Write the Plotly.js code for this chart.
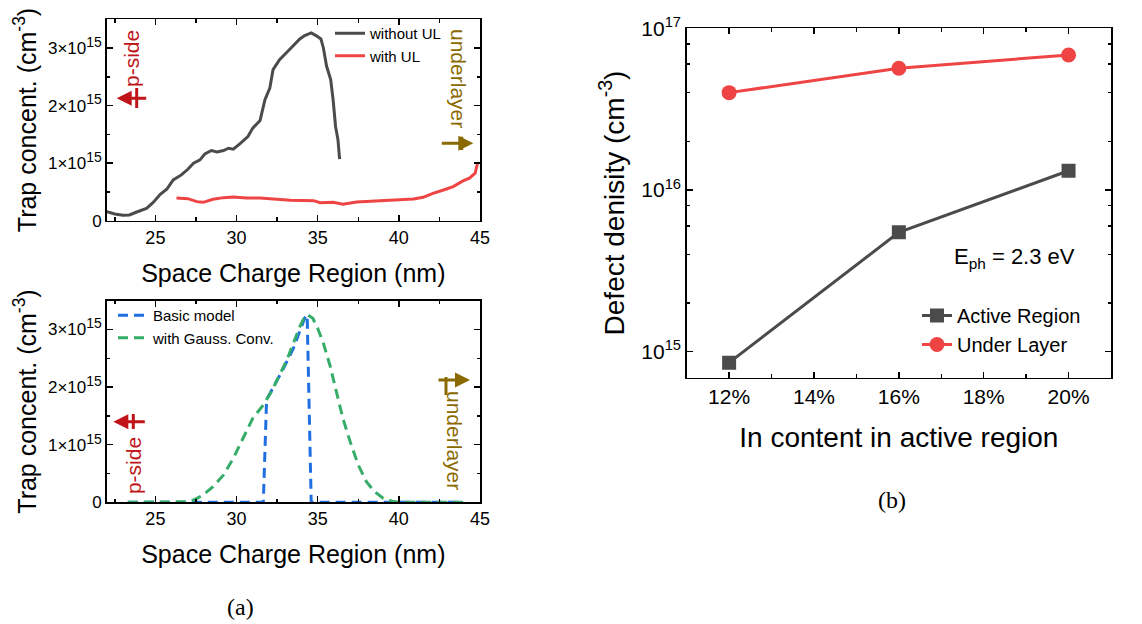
<!DOCTYPE html>
<html><head><meta charset="utf-8">
<script src="https://cdn.plot.ly/plotly-3.0.1.min.js"></script>
<style>html,body{margin:0;padding:0;background:#fff;}#chart{width:1142px;height:624px;}</style>
</head><body><div id="chart"></div>
<script>
// ---------- Data (a) top: trap concentration vs space charge region ----------
const withoutUL_x = [22.0,22.5,23.0,23.4,23.85,24.45,24.85,25.3,25.7,26.1,26.6,27.0,27.35,27.75,28.05,28.45,28.8,29.2,29.5,29.8,30.2,30.7,31.0,31.45,31.75,32.05,32.25,32.65,33.1,33.5,33.9,34.2,34.6,34.9,35.2,35.35,35.55,35.8,35.95,36.1,36.25,36.35];
const withoutUL_y = [0.157e15,0.116e15,0.093e15,0.099e15,0.151e15,0.215e15,0.314e15,0.459e15,0.546e15,0.708e15,0.796e15,0.894e15,0.999e15,1.057e15,1.161e15,1.22e15,1.196e15,1.22e15,1.26e15,1.243e15,1.336e15,1.463e15,1.609e15,1.742e15,2.102e15,2.305e15,2.625e15,2.799e15,2.927e15,3.043e15,3.159e15,3.217e15,3.264e15,3.217e15,3.159e15,3.002e15,2.683e15,2.451e15,2.102e15,1.638e15,1.405e15,1.069e15];
const withUL_x = [26.3,27.0,27.55,27.95,28.55,29.2,29.8,30.6,31.45,32.45,33.3,34.75,35.15,35.95,36.55,37.4,38.4,39.25,40.05,40.9,41.5,42.1,42.75,43.35,43.95,44.35,44.7,44.85];
const withUL_y = [0.395e15,0.383e15,0.331e15,0.319e15,0.372e15,0.401e15,0.412e15,0.395e15,0.395e15,0.377e15,0.354e15,0.348e15,0.314e15,0.319e15,0.285e15,0.325e15,0.337e15,0.348e15,0.354e15,0.377e15,0.406e15,0.476e15,0.534e15,0.592e15,0.691e15,0.738e15,0.825e15,0.999e15];

// ---------- Data (a) bottom: model curves ----------
const basic_x = [23.3,31.65,31.85,32.25,32.9,33.5,33.9,34.2,34.35,34.6,44.0];
const basic_y = [0,0,1.78e15,1.98e15,2.33e15,2.67e15,2.96e15,3.2e15,3.25e15,0,0];
const gauss_x = [23.3,26.9,27.35,27.95,28.55,29.2,29.8,30.4,31.0,31.65,32.15,32.65,33.1,33.5,33.9,34.2,34.4,34.7,35.0,35.35,35.75,36.15,36.55,37.0,37.5,38.0,38.5,39.05,39.65,40.05,44.0];
const gauss_y = [0,0.01e15,0.04e15,0.127e15,0.272e15,0.475e15,0.764e15,1.111e15,1.458e15,1.69e15,1.921e15,2.211e15,2.471e15,2.76e15,3.05e15,3.223e15,3.252e15,3.194e15,3.021e15,2.76e15,2.384e15,1.921e15,1.458e15,1.053e15,0.648e15,0.359e15,0.185e15,0.069e15,0.012e15,0,0];

// ---------- Data (b): defect density vs In content ----------
const inContent = [12,16,20];
const activeRegion = [8.55e14,5.47e15,1.315e16];
const underLayer = [4.0e16,5.66e16,6.84e16];

// tick labels
const leftXTickVals = [25,30,35,40,45];
const leftXMinor = [22.5,27.5,32.5,37.5,42.5];
const leftTickVals = [0,1e15,2e15,3e15];
const leftTickText = ['0','1×10<sup><span style="font-size:14px">15</span></sup>','2×10<sup><span style="font-size:14px">15</span></sup>','3×10<sup><span style="font-size:14px">15</span></sup>'];
const leftYMinor = [0.5e15,1.5e15,2.5e15,3.5e15];
const rightXTickVals = [12,14,16,18,20];
const rightXTickText = ['12%','14%','16%','18%','20%'];
const rightXMinor = [11,13,15,17,19,21];
const rightTickVals = [1e15,1e16,1e17];
const rightTickText = ['10<sup>15</sup>','10<sup>16</sup>','10<sup>17</sup>'];
const rightYMinor = [2e15,4e15,6e15,8e15,2e16,4e16,6e16,8e16];

// ---------- layout helpers ----------
const W=1142,H=624;
const px = v => v/W;
const py = v => 1 - v/H;
const FONT = 'Liberation Sans, Arial, sans-serif';
const GRAY='#4b4b4b', RED='#ef4444', BLUE='#1f6fe0', GREEN='#35ad68', PRED='#c01418', GOLD='#8a6a00';

function minorTicks(vals){
  return {tickmode:'array',tickvals:vals,ticks:'inside',ticklen:3.5,tickwidth:1.5,tickcolor:'#000'};
}
function axisBase(extra){
  return Object.assign({
    showline:true, linecolor:'#000', linewidth:1.5, mirror:'ticks',
    ticks:'inside', ticklen:6, tickwidth:1.5, tickcolor:'#000',
    showgrid:false, zeroline:false, tickmode:'array',
    tickfont:{family:FONT,size:18,color:'#000'}
  }, extra);
}

const traces = [
  {x:withoutUL_x,y:withoutUL_y,xaxis:'x',yaxis:'y',mode:'lines',name:'without UL',line:{color:GRAY,width:3},legend:'legend'},
  {x:withUL_x,y:withUL_y,xaxis:'x',yaxis:'y',mode:'lines',name:'with UL',line:{color:RED,width:3},legend:'legend'},
  {x:basic_x,y:basic_y,xaxis:'x2',yaxis:'y2',mode:'lines',name:'Basic model',line:{color:BLUE,width:3,dash:'10px,6px'},legend:'legend2'},
  {x:gauss_x,y:gauss_y,xaxis:'x2',yaxis:'y2',mode:'lines',name:'with Gauss. Conv.',line:{color:GREEN,width:3,dash:'10px,6px'},legend:'legend2'},
  {x:inContent,y:activeRegion,xaxis:'x3',yaxis:'y3',mode:'lines+markers',name:'Active Region',line:{color:GRAY,width:3},marker:{symbol:'square',size:14,color:GRAY},legend:'legend3'},
  {x:inContent,y:underLayer,xaxis:'x3',yaxis:'y3',mode:'lines+markers',name:'Under Layer',line:{color:RED,width:3},marker:{symbol:'circle',size:15,color:RED},legend:'legend3'}
];

const leftX = (anchor)=>axisBase({domain:[px(106.7),px(480)],anchor:anchor,range:[22,45],tickvals:leftXTickVals,
  minor:minorTicks(leftXMinor),
  title:{text:'Space Charge Region (nm)',font:{family:FONT,size:25,color:'#000'},standoff:17}});
const leftY = (anchor,dom)=>axisBase({domain:dom,anchor:anchor,range:[0,3.5e15],tickvals:leftTickVals,ticktext:leftTickText,
  tickfont:{family:FONT,size:17,color:'#000'},
  minor:minorTicks(leftYMinor),
  title:{text:'Trap concent. (cm<sup>-3</sup>)',font:{family:FONT,size:25,color:'#000'},standoff:4}});

const ann = (x,y,text,angle,size,color,family)=>({xref:'paper',yref:'paper',x:px(x),y:py(y),xanchor:'center',yanchor:'middle',
  text:text,textangle:angle,showarrow:false,font:{family:family||FONT,size:size,color:color}});
const arrow = (x,y,ax,color)=>({xref:'paper',yref:'paper',x:px(x),y:py(y),ax:ax,ay:0,text:'',showarrow:true,arrowhead:2,arrowsize:1,arrowwidth:3,arrowcolor:color});
const bar = (x,y0,y1,color)=>({type:'line',xref:'paper',yref:'paper',x0:px(x),x1:px(x),y0:py(y0),y1:py(y1),line:{color:color,width:3}});
const SERIF='Liberation Serif, Times New Roman, serif';

const layout = {
  width:W,height:H,margin:{l:0,r:0,t:0,b:0},paper_bgcolor:'#fff',plot_bgcolor:'#fff',
  font:{family:FONT,color:'#000'},
  xaxis:leftX('y'),
  yaxis:leftY('x',[py(220.7),py(19.3)]),
  xaxis2:leftX('y2'),
  yaxis2:leftY('x2',[py(502.3),py(300.7)]),
  xaxis3:axisBase({domain:[px(686.7),px(1111)],anchor:'y3',range:[11,21],tickvals:rightXTickVals,ticktext:rightXTickText,
    tickfont:{family:FONT,size:21,color:'#000'},
    minor:minorTicks(rightXMinor),
    title:{text:'In content in active region',font:{family:FONT,size:28,color:'#000'},standoff:20}}),
  yaxis3:axisBase({domain:[py(377.7),py(28.3)],anchor:'x3',type:'log',range:[14.839,17],tickvals:rightTickVals,ticktext:rightTickText,
    tickfont:{family:FONT,size:21,color:'#000'},
    minor:minorTicks(rightYMinor),
    title:{text:'Defect denisity (cm<sup>-3</sup>)',font:{family:FONT,size:28,color:'#000'},standoff:8}}),
  legend:{x:px(330),y:py(17),xanchor:'left',yanchor:'top',bgcolor:'rgba(0,0,0,0)',font:{family:FONT,size:15,color:'#000'},tracegroupgap:0},
  legend2:{x:px(113),y:py(299),xanchor:'left',yanchor:'top',bgcolor:'rgba(0,0,0,0)',font:{family:FONT,size:15,color:'#000'},tracegroupgap:0},
  legend3:{x:px(917),y:py(296),xanchor:'left',yanchor:'top',bgcolor:'rgba(0,0,0,0)',font:{family:FONT,size:20,color:'#000'},tracegroupgap:0},
  annotations:[
    ann(131.7,58.3,'p-side',-90,21,PRED),
    ann(458.3,78.3,'underlayer',90,21,GOLD),
    ann(133.3,465.8,'p-side',-90,21,PRED),
    ann(455,440,'underlayer',90,21,GOLD),
    arrow(116.7,98.3,31,PRED),
    arrow(473.3,143.3,-33,GOLD),
    arrow(113.3,421.7,33,PRED),
    arrow(470,380,-33,GOLD),
    {xref:'paper',yref:'paper',x:px(952),y:py(258),xanchor:'left',yanchor:'middle',text:'E<sub>ph</sub> = 2.3 eV',showarrow:false,font:{family:FONT,size:22,color:'#000'}},
    ann(240,607,'(a)',0,24,'#000',SERIF),
    ann(892,500,'(b)',0,24,'#000',SERIF)
  ],
  shapes:[
    bar(136.7,88,108,PRED),
    bar(461.7,136.7,150,GOLD),
    bar(133.3,414,429,PRED),
    bar(446,377,395,GOLD)
  ]
};

Plotly.newPlot('chart',traces,layout,{displayModeBar:false,staticPlot:true});
</script></body></html>
